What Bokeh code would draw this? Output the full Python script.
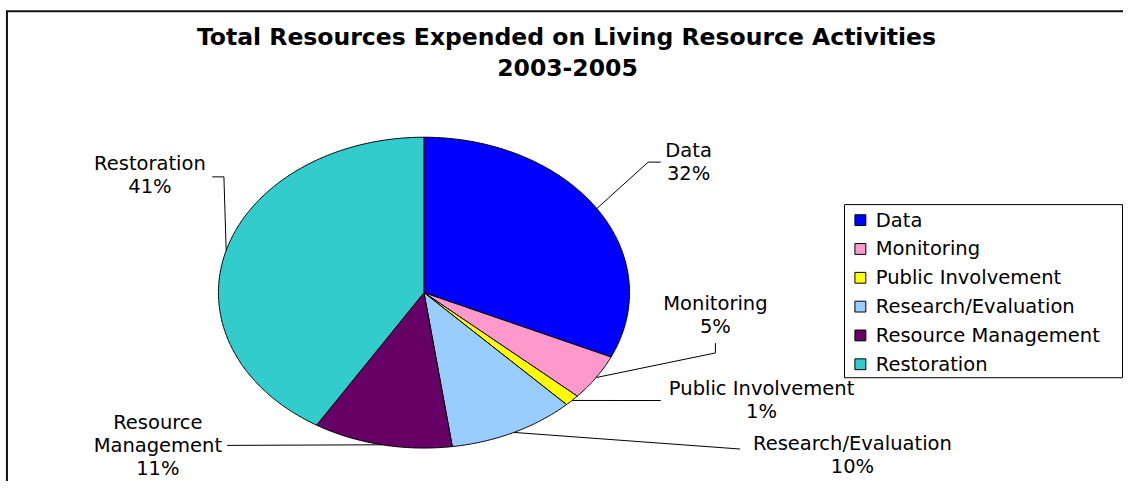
import math
from bokeh.plotting import figure
from bokeh.models import Range1d, ColumnDataSource
from bokeh.core.properties import value
from bokeh.embed import file_html
from bokeh.resources import INLINE

# ---------------- data ----------------
title_lines = ["Total Resources Expended on Living Resource Activities", "2003-2005"]
categories = ["Data", "Monitoring", "Public Involvement", "Research/Evaluation",
              "Resource Management", "Restoration"]
shares = [31.8, 4.8, 1.2, 10.0, 10.95, 41.25]
colors = ["#0000FF", "#FF99CC", "#FFFF00", "#99CCFF", "#660066", "#33CCCC"]

# ---------------- layout ----------------
W, H = 1123, 481            # figure size in pixels
VW, VH = 1131, 489          # design coordinate space
CX, CY, RX, RY = 426.5, 297.0, 207.0, 158.0
FONT = "DejaVu Sans"
LABEL_SIZE = "19.5px"

label_lines = [["Data"], ["Monitoring"], ["Public Involvement"], ["Research/Evaluation"],
               ["Resource", "Management"], ["Restoration"]]
label_pos = [(693, 152.5), (720, 308), (766.5, 394), (858, 450.5), (158.5, 429), (150.5, 165.5)]
line_step = 23.6
leader_tail = [[(652.3, 164.3), (665, 164.3)],
               [(720, 358.3), (720, 348.3)],
               [(665, 406.7)],
               [(745, 456)],
               [(228.3, 452.3)],
               [(225, 179.3), (213.3, 179.3)]]

p = figure(width=W, height=H, x_range=Range1d(0, VW), y_range=Range1d(VH, 0),
           output_backend="svg", toolbar_location=None, min_border=0,
           x_axis_type=None, y_axis_type=None)
p.outline_line_color = None
p.background_fill_color = "white"
p.border_fill_color = "white"
p.xgrid.visible = False
p.ygrid.visible = False

# chart border (left and top edges visible)
p.line(x=[6.5, 6.5, VW + 5], y=[VH + 5, 11, 11], line_color="#111111", line_width=2,
       line_join="miter")

# title
p.text(x=[570, 571], y=[37.5, 68.5], text=title_lines, text_font=value(FONT),
       text_font_style="bold", text_font_size="23.5px", text_align="center",
       text_baseline="middle", text_color="black")

# pie slices (clockwise from top, elliptical)
def pt(angle_deg, rx=RX, ry=RY):
    a = math.radians(angle_deg)
    return CX + rx * math.sin(a), CY - ry * math.cos(a)

total = sum(shares)
xs, ys, mids = [], [], []
cum = 0.0
for v in shares:
    a0 = cum / total * 360.0
    a1 = (cum + v) / total * 360.0
    n = max(2, int(math.ceil((a1 - a0) / 0.5)))
    px, py = [CX], [CY]
    for k in range(n + 1):
        x, y = pt(a0 + (a1 - a0) * k / n)
        px.append(x)
        py.append(y)
    xs.append(px)
    ys.append(py)
    mids.append((a0 + a1) / 2.0)
    cum += v

src = ColumnDataSource(dict(xs=xs, ys=ys, color=colors, category=categories))
p.patches("xs", "ys", fill_color="color", line_color="black", line_width=1,
          line_join="round", source=src)

# leader lines
lx, ly = [], []
for m, tail in zip(mids, leader_tail):
    sx, sy = pt(m)
    lx.append([sx] + [t[0] for t in tail])
    ly.append([sy] + [t[1] for t in tail])
p.multi_line(lx, ly, line_color="black", line_width=1)

# data labels
tx, ty, tt = [], [], []
for lines, (x, y), v in zip(label_lines, label_pos, shares):
    allines = lines + [f"{round(v / total * 100)}%"]
    for i, s in enumerate(allines):
        tx.append(x)
        ty.append(y + i * line_step)
        tt.append(s)
p.text(x=tx, y=ty, text=tt, text_font=value(FONT), text_font_size=LABEL_SIZE,
       text_align="center", text_baseline="middle", text_color="black")

# legend
LEG_L, LEG_R, LEG_T, LEG_B = 850, 1130, 207.5, 383.5
p.quad(left=[LEG_L], right=[LEG_R], top=[LEG_T], bottom=[LEG_B],
       fill_color="white", line_color="black", line_width=1)
leg_y = [223.3 + i * 29.3 for i in range(len(categories))]
p.rect(x=[866] * len(categories), y=leg_y, width=11, height=11,
       fill_color=colors, line_color="black", line_width=1)
p.text(x=[881.5] * len(categories), y=leg_y, text=categories, text_font=value(FONT),
       text_font_size=LABEL_SIZE, text_align="left", text_baseline="middle",
       text_color="black")

open("out.html", "w").write(file_html(p, INLINE))
